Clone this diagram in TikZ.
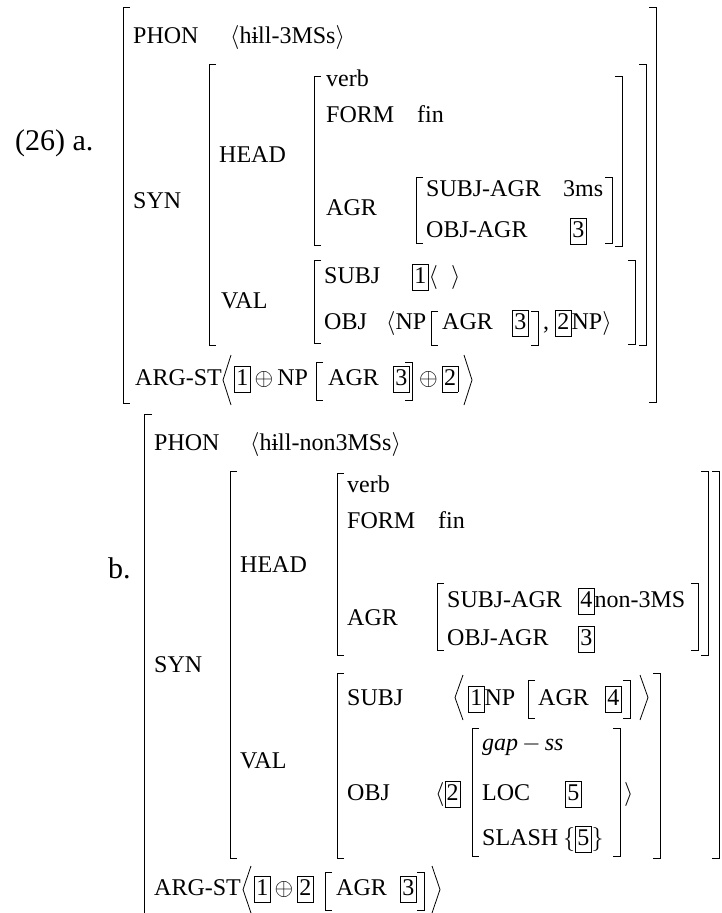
\documentclass[tikz,border=0pt]{standalone}
\usepackage{fix-cm}
\usepackage{fontspec}
\setmainfont{Liberation Serif}

\tikzset{
  avm/.style={anchor=base west, inner sep=0pt, font=\fontsize{24}{28}\selectfont},
  exno/.style={anchor=base west, inner sep=0pt, font=\fontsize{30}{34}\selectfont},
  brk/.style={line width=0.8pt}
}
% boxed tag
\newcommand{\tagn}[1]{{\fboxsep=1.5pt\fboxrule=0.7pt\fbox{\rule[-5pt]{0pt}{22pt}#1}}}
% brackets: x, top, bottom
\newcommand{\lbrak}[3]{\draw[brk] (#1+7,#2) -- (#1,#2) -- (#1,#3) -- (#1+7,#3);}
\newcommand{\rbrak}[3]{\draw[brk] (#1-7,#2) -- (#1,#2) -- (#1,#3) -- (#1-7,#3);}
\newcommand{\angL}[3]{\draw[brk] (#1+8,#2) -- (#1,{(#2+#3)/2}) -- (#1+8,#3);}
\newcommand{\angR}[3]{\draw[brk] (#1-8,#2) -- (#1,{(#2+#3)/2}) -- (#1-8,#3);}

\begin{document}
\begin{tikzpicture}[x=1pt,y=-1pt]
        \useasboundingbox (0,0) rectangle (721,913);

        % (26) a.
        \node[exno] (numA) at (15,150) {(26) a.};
        \lbrak{123}{7}{403} \rbrak{656}{7}{402}
        \node[avm] (phonA) at (133,43) {PHON};
        \node[avm] (phonAv) at (230,43) {$\langle$h\char"0268ll-3MSs$\rangle$};
        \node[avm] (synA) at (133,208) {SYN};

        % SYN
        \lbrak{209}{64}{345} \rbrak{646}{64}{345}
        \node[avm] (headA) at (219,162) {HEAD};
        \lbrak{314}{76}{245} \rbrak{622}{76}{246}
        \node[avm] (verbA) at (326,86) {verb};
        \node[avm] (formA) at (326,122) {FORM};
        \node[avm] (finA) at (417,122) {fin};
        \node[avm] (agrA) at (326,215) {AGR};
        \lbrak{416}{177}{243} \rbrak{612}{177}{243}
        \node[avm] (sagrA) at (426,196) {SUBJ-AGR};
        \node[avm] (sagrAv) at (563,196) {3ms};
        \node[avm] (oagrA) at (426,237) {OBJ-AGR};
        \node[avm] (oagrAv) at (570,237) {\tagn{3}};

        % VAL
        \node[avm] (valA) at (221,308) {VAL};
        \lbrak{314}{260}{343} \rbrak{635}{260}{344}
        \node[avm] (subjA) at (324,283) {SUBJ};
        \node[avm] (subjAv) at (412,283) {\tagn{1}$\langle\;\;\rangle$};
        \node[avm] (objA) at (324,329) {OBJ};
        \node[avm] (objAv) at (386,329) {$\langle$NP};
        \lbrak{431}{311}{345} \rbrak{538}{311}{345}
        \node[avm] (objAagr) at (442,329) {AGR};
        \node[avm] (objAtag) at (512,329) {\tagn{3}};
        \node[avm] (objAnp) at (543,329) {, \tagn{2}NP$\rangle$};

        % ARG-ST
        \node[avm] (argA) at (135,385) {ARG-ST};
        \angL{223}{355}{405}
        \node[avm] (argA1) at (234,385) {\tagn{1}\,$\oplus$\,NP};
        \lbrak{316}{362}{400} \rbrak{412}{362}{400}
        \node[avm] (argA3) at (393,385) {\tagn{3}};
        \node[avm] (argAagr) at (328,385) {AGR};
        \node[avm] (argA2) at (419,385) {$\oplus$\,\tagn{2}};
        \angR{472}{355}{405}

        % b.
        \node[exno] (numB) at (108,578) {b.};
        \draw[brk] (152,414) -- (144,414) -- (144,920);
        \node[avm] (phonB) at (154,450) {PHON};
        \node[avm] (phonBv) at (250,450) {$\langle$h\char"0268ll-non3MSs$\rangle$};
        \node[avm] (synB) at (154,672) {SYN};

        % SYN
        \lbrak{230}{471}{858} \rbrak{719}{471}{858}
        \node[avm] (headB) at (240,572) {HEAD};
        \lbrak{337}{473}{655} \rbrak{708}{471}{655}
        \node[avm] (verbB) at (347,492) {verb};
        \node[avm] (formB) at (347,528) {FORM};
        \node[avm] (finB) at (438,528) {fin};
        \node[avm] (agrB) at (347,625) {AGR};
        \lbrak{437}{583}{650} \rbrak{698}{583}{650}
        \node[avm] (sagrB) at (447,607) {SUBJ-AGR};
        \node[avm] (sagrBv) at (578,607) {\tagn{4}non-3MS};
        \node[avm] (oagrB) at (447,645) {OBJ-AGR};
        \node[avm] (oagrBv) at (578,645) {\tagn{3}};

        % VAL
        \node[avm] (valB) at (240,768) {VAL};
        \lbrak{337}{673}{858} \rbrak{660}{673}{858}
        \node[avm] (subjB) at (347,705) {SUBJ};
        \angL{455}{675}{720}
        \node[avm] (subjBnp) at (468,705) {\tagn{1}NP};
        \lbrak{528}{680}{718} \rbrak{630}{680}{718}
        \node[avm] (subjBagr) at (538,705) {AGR};
        \node[avm] (subjB4) at (605,705) {\tagn{4}};
        \angR{648}{675}{720}
        \node[avm] (objB) at (347,800) {OBJ};
        \node[avm] (objBtag) at (435,800) {$\langle$\tagn{2}};
        \lbrak{472}{728}{856} \rbrak{620}{728}{856}
        \node[avm, font=\fontsize{24}{28}\selectfont\itshape] (gapB) at (482,750) {gap\,$-$\,ss};
        \node[avm] (locB) at (482,800) {LOC};
        \node[avm] (locBv) at (565,800) {\tagn{5}};
        \node[avm] (objBend) at (624,800) {$\rangle$};
        \node[avm] (slashB) at (482,845) {SLASH};
        \node[avm] (slashBv) at (563,845) {$\{$\tagn{5}$\}$};

        % ARG-ST
        \node[avm] (argB) at (154,895) {ARG-ST};
        \angL{243}{866}{913}
        \node[avm] (argB1) at (254,895) {\tagn{1}\,$\oplus$\,\tagn{2}};
        \lbrak{325}{872}{910} \rbrak{424}{872}{910}
        \node[avm] (argBagr) at (336,895) {AGR};
        \node[avm] (argB3) at (400,895) {\tagn{3}};
        \angR{440}{866}{913}
\end{tikzpicture}
\end{document}
